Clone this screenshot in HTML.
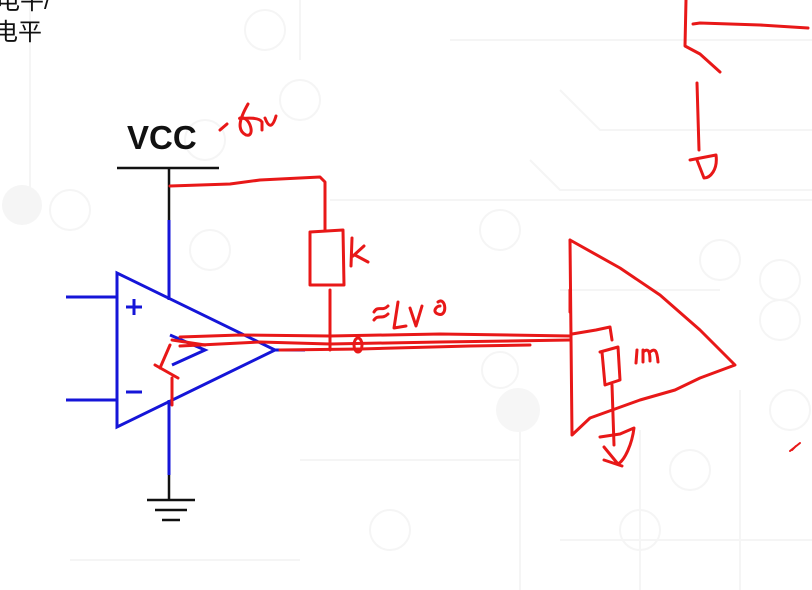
<!DOCTYPE html>
<html><head><meta charset="utf-8"><style>
html,body{margin:0;padding:0;background:#fff;}
svg{display:block}
</style></head><body>
<svg width="812" height="590" viewBox="0 0 812 590" xmlns="http://www.w3.org/2000/svg">
<g stroke="#f5f5f5" stroke-width="2" fill="none">
<path d="M300 0 V60 M30 0 V210 M450 40 H812 M560 90 L600 130 H812 M330 200 H812 M530 160 L560 190 H812 M560 290 H720 M520 420 V590 M640 430 V590 M300 460 H520 M560 540 H812 M70 560 H300 M740 390 V590"/>
<circle cx="265" cy="30" r="20"/><circle cx="300" cy="100" r="20"/><circle cx="205" cy="140" r="20"/>
<circle cx="70" cy="210" r="20"/><circle cx="210" cy="250" r="20"/><circle cx="500" cy="230" r="20"/>
<circle cx="720" cy="260" r="20"/><circle cx="780" cy="280" r="20"/><circle cx="500" cy="370" r="18"/>
<circle cx="390" cy="530" r="20"/><circle cx="640" cy="530" r="20"/><circle cx="690" cy="470" r="20"/>
<circle cx="790" cy="410" r="20"/><circle cx="780" cy="320" r="20"/>
</g>
<circle cx="22" cy="205" r="20" fill="#f5f5f5"/>
<circle cx="518" cy="410" r="22" fill="#f6f6f6"/>
<text x="-4" y="9" font-family="Liberation Sans, Noto Sans CJK SC, sans-serif" font-size="24" fill="#111">电平/</text>
<text x="-6" y="40" font-family="Liberation Sans, Noto Sans CJK SC, sans-serif" font-size="24" fill="#111">电平</text>
<text x="127" y="149" font-family="Liberation Sans, sans-serif" font-size="33" font-weight="bold" fill="#111">VCC</text>
<g stroke="#111" stroke-width="2.5" fill="none">
<path d="M117 168 H219 M169 168 V220 M169 475 V500 M147 500 H195 M155 510 H187 M162 520 H180"/>
</g>
<g stroke="#1515d8" stroke-width="3" fill="none">
<path d="M169 220 V300 M169 400 V475"/>
<path d="M117 273 L117 427 L275 350 Z"/>
<path d="M66 297 H117 M66 400 H117 M275 350 H305"/>
<path d="M126 307 H142 M134 299 V315 M126 392 H142"/>
<path d="M170 335 L205 350 L172 365"/>
</g>
<g stroke="#e81818" stroke-width="3" fill="none" stroke-linecap="round" stroke-linejoin="round">
<path d="M170 186 L230 184 L260 180 L320 177 L325 182 L325 230"/>
<path d="M310 232 L343 230 L344 285 L310 285 Z"/>
<path d="M330 290 V350"/>
<path d="M352 238 L351 266 M353 256 L364 246 M355 255 L368 262"/>
<path d="M220 130 L227 124 M248 104 C240 118 236 130 246 135 C256 138 250 115 240 118 C236 120 258 115 262 122 V130 M265 118 C268 126 272 130 276 116"/>
<path d="M180 337 L240 335 L330 336 L440 334 L570 336"/>
<path d="M180 346 L260 342 L330 344 L440 342 L570 340"/>
<path d="M280 350 L360 349 L470 346 L530 345"/>
<path d="M172 340 L205 345 M170 345 L160 368 M155 365 L178 378 M172 378 V405"/>
<ellipse cx="358" cy="345" rx="4" ry="7"/>
<path d="M374 312 C378 305 382 312 388 306 M374 320 C378 314 382 320 388 314 M398 302 L394 328 L406 326 M410 308 L416 326 L422 306 M438 302 C446 296 448 318 438 314 C432 312 436 306 440 306"/>
<path d="M570 240 L572 435 L590 418 L640 400 L675 390 L700 378 L735 365 L700 330 L660 295 L620 268 L570 240"/>
<path d="M570 290 V312 M572 334 L596 330 L610 327 L612 340"/>
<path d="M600 352 L618 347 L620 380 L605 385 L602 352"/>
<path d="M612 385 L614 445"/>
<path d="M600 437 L620 434 L634 428 C632 444 625 460 618 464 L604 447 M604 460 L622 466"/>
<path d="M637 350 L636 363 M643 350 V362 M643 352 C648 348 650 350 650 361 M650 352 C655 348 657 350 658 362"/>
<path d="M686 0 L685 46 L700 54 L720 72 M693 24 L700 23 L760 25 L808 28"/>
<path d="M697 83 L699 150 M690 160 L716 155 C718 170 710 178 704 178 L697 160"/>
<path d="M790 451 L800 443 M792 450 L796 446" stroke-width="2"/>
</g>
</svg>
</body></html>
